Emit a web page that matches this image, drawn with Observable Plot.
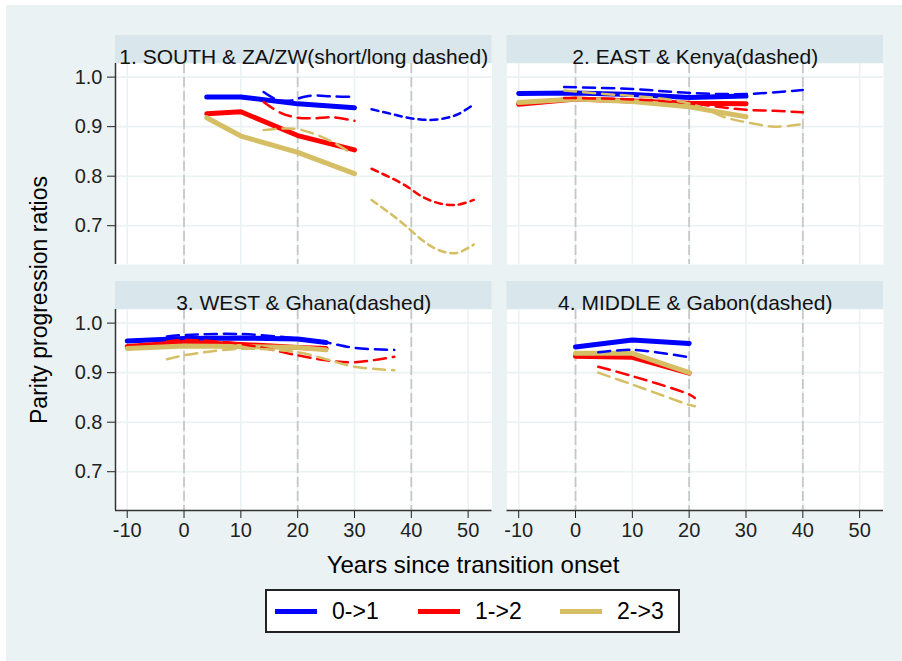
<!DOCTYPE html>
<html><head><meta charset="utf-8">
<script src="https://cdn.jsdelivr.net/npm/d3@7"></script>
<script src="https://cdn.jsdelivr.net/npm/@observablehq/plot@0.6"></script>
<style>
body{margin:0;background:#fff;font-family:"Liberation Sans",Arial,sans-serif;color:#000}
#wrap{position:relative;width:902px;height:661px;overflow:hidden;background:#fff}
#bg{position:absolute;left:6px;top:5px;right:0;bottom:0;background:#EAF2F3}
#chart{position:absolute;left:0;top:0}
#ytitle{position:absolute;left:39px;top:300px;transform:translate(-50%,-50%) rotate(-90deg);font-size:23px;white-space:nowrap}
#xtitle{position:absolute;left:473px;top:565px;transform:translate(-50%,-50%);font-size:24px;white-space:nowrap}
#legend{position:absolute;left:265px;top:589px;width:411px;height:40px;border:2px solid #222;background:#fff}
.sw{position:absolute;top:18px;width:42px;height:5px}
.lab{position:absolute;top:50%;transform:translateY(-50%);font-size:23px;white-space:nowrap}
</style>
</head>
<body>
<div id="wrap">
  <div id="bg"></div>
  <div id="chart"></div>
  <div id="ytitle">Parity progression ratios</div>
  <div id="xtitle">Years since transition onset</div>
  <div id="legend"></div>
</div>
<script>
// ---------- categories & labels ----------
const panelTitles = [
  "1. SOUTH & ZA/ZW(short/long dashed)",
  "2. EAST & Kenya(dashed)",
  "3. WEST & Ghana(dashed)",
  "4. MIDDLE & Gabon(dashed)"
];
const panelCols = [1, 2, 1, 2];
const panelRows = [1, 1, 2, 2];
const parities = ["0->1", "1->2", "2->3"];
const parityColors = ["#0000FF", "#FF0000", "#D6BE64"];
const xTicks = [-10, 0, 10, 20, 30, 40, 50];
const yTicks = [0.7, 0.8, 0.9, 1.0];
const onsetLines = [0, 20, 40];
const xDomain = [-12.06, 54.2];
const yDomain = [0.6217, 1.0275];

// ---------- 1. SOUTH (region, solid) ----------
const southYears = [4, 10, 20, 30];
const south01 = [0.960, 0.960, 0.946, 0.938];
const south12 = [0.926, 0.930, 0.882, 0.853];
const south23 = [0.918, 0.881, 0.848, 0.805];
// ZW (long dashed)
const zwYears = [14, 16.5, 19, 21, 23, 26, 30];
const zw01 = [0.970, 0.954, 0.953, 0.960, 0.963, 0.961, 0.960];
const zwYears12 = [14, 17, 20, 23, 26, 30];
const zw12 = [0.950, 0.928, 0.918, 0.917, 0.919, 0.912];
const zwYears23 = [14, 17, 20, 23, 26, 29.5];
const zw23 = [0.893, 0.896, 0.895, 0.885, 0.870, 0.846];
// ZA (short dashed)
const zaYears = [33, 36, 39, 42, 45, 48, 51];
const za01 = [0.935, 0.927, 0.919, 0.914, 0.915, 0.924, 0.945];
const za12 = [0.815, 0.799, 0.781, 0.758, 0.745, 0.742, 0.752];
const za23 = [0.752, 0.727, 0.700, 0.670, 0.650, 0.645, 0.662];

// ---------- 2. EAST (region, solid) ----------
const eastYears = [-10, 0, 10, 20, 30];
const east01 = [0.967, 0.968, 0.965, 0.959, 0.962];
const east12 = [0.945, 0.956, 0.952, 0.947, 0.946];
const east23 = [0.949, 0.956, 0.951, 0.940, 0.920];
// Kenya (dashed)
const kenyaYears01 = [-2, 10, 20, 30, 40];
const kenya01 = [0.980, 0.976, 0.968, 0.966, 0.974];
const kenyaYears12 = [-2, 10, 20, 25, 30, 35, 40];
const kenya12 = [0.958, 0.955, 0.948, 0.940, 0.934, 0.932, 0.929];
const kenyaYears23 = [-2, 5, 10, 17, 22, 26, 30, 35, 40];
const kenya23 = [0.973, 0.966, 0.962, 0.954, 0.940, 0.920, 0.909, 0.900, 0.905];

// ---------- 3. WEST (region, solid) ----------
const westYears = [-10, 0, 10, 20, 25];
const west01 = [0.964, 0.969, 0.970, 0.968, 0.961];
const west12 = [0.953, 0.961, 0.957, 0.951, 0.949];
const west23 = [0.949, 0.954, 0.953, 0.951, 0.946];
// Ghana (dashed)
const ghanaYears = [-3, 0, 10, 20, 25, 30, 37];
const ghana01 = [0.973, 0.976, 0.978, 0.969, 0.961, 0.950, 0.946];
const ghana12 = [0.963, 0.966, 0.958, 0.935, 0.925, 0.921, 0.932];
const ghana23 = [0.927, 0.935, 0.948, 0.941, 0.927, 0.912, 0.905];

// ---------- 4. MIDDLE (region, solid) ----------
const middleYears = [0, 10, 20];
const middle01 = [0.952, 0.966, 0.959];
const middle12 = [0.933, 0.931, 0.899];
const middle23 = [0.939, 0.939, 0.900];
// Gabon (dashed)
const gabonYears01 = [4, 10, 20];
const gabon01 = [0.941, 0.946, 0.931];
const gabonYears = [4, 10, 20, 21];
const gabon12 = [0.912, 0.893, 0.856, 0.849];
const gabon23 = [0.900, 0.876, 0.835, 0.832];

// ---------- build tables ----------
const panels = panelTitles.map((title, i) => ({title, col: panelCols[i], row: panelRows[i]}));
const rows = [];
function addCurve(p, style, parity, years, values) {
  years.forEach((yr, i) => rows.push({
    col: panelCols[p], row: panelRows[p], style, parity,
    key: p + "|" + style + "|" + parity, year: yr, value: values[i]
  }));
}
addCurve(0, "solid", parities[0], southYears, south01);
addCurve(0, "solid", parities[1], southYears, south12);
addCurve(0, "solid", parities[2], southYears, south23);
addCurve(0, "long", parities[0], zwYears, zw01);
addCurve(0, "long", parities[1], zwYears12, zw12);
addCurve(0, "long", parities[2], zwYears23, zw23);
addCurve(0, "short", parities[0], zaYears, za01);
addCurve(0, "short", parities[1], zaYears, za12);
addCurve(0, "short", parities[2], zaYears, za23);

addCurve(1, "solid", parities[0], eastYears, east01);
addCurve(1, "solid", parities[1], eastYears, east12);
addCurve(1, "solid", parities[2], eastYears, east23);
addCurve(1, "long", parities[0], kenyaYears01, kenya01);
addCurve(1, "long", parities[1], kenyaYears12, kenya12);
addCurve(1, "long", parities[2], kenyaYears23, kenya23);

addCurve(2, "solid", parities[0], westYears, west01);
addCurve(2, "solid", parities[1], westYears, west12);
addCurve(2, "solid", parities[2], westYears, west23);
addCurve(2, "long", parities[0], ghanaYears, ghana01);
addCurve(2, "long", parities[1], ghanaYears, ghana12);
addCurve(2, "long", parities[2], ghanaYears, ghana23);

addCurve(3, "solid", parities[0], middleYears, middle01);
addCurve(3, "solid", parities[1], middleYears, middle12);
addCurve(3, "solid", parities[2], middleYears, middle23);
addCurve(3, "long", parities[0], gabonYears01, gabon01);
addCurve(3, "long", parities[1], gabonYears, gabon12);
addCurve(3, "long", parities[2], gabonYears, gabon23);

const solidRows = rows.filter(d => d.style === "solid");
const longRows = rows.filter(d => d.style === "long");
const shortRows = rows.filter(d => d.style === "short");
const leftPanels = panels.filter(d => d.col === 1);
const bottomPanels = panels.filter(d => d.row === 2);

const facetH = 201;
const chart = Plot.plot({
  width: 902,
  height: 548,
  marginLeft: 115, marginRight: 19, marginTop: 63, marginBottom: 38,
  style: {fontFamily: "'Liberation Sans', Arial, sans-serif", fontSize: "20px", color: "#222", background: "transparent", overflow: "visible"},
  fx: {domain: [1, 2], axis: null, paddingInner: 0.0383, paddingOuter: 0, round: false},
  fy: {domain: [1, 2], axis: null, paddingInner: 0.183, paddingOuter: 0, round: false},
  x: {domain: xDomain, ticks: xTicks, tickFormat: d => String(d), tickSize: 8, tickPadding: 4, label: null},
  y: {domain: yDomain, ticks: yTicks, tickFormat: d => d.toFixed(1), tickSize: 8, tickPadding: 5, label: null},
  color: {domain: parities, range: parityColors},
  marks: [
    Plot.frame({fill: "white", stroke: null}),
    Plot.ruleX(xTicks, {stroke: "#EAF2F3", strokeWidth: 1.6}),
    Plot.ruleY(yTicks, {stroke: "#EAF2F3", strokeWidth: 1.6}),
    Plot.ruleX(onsetLines, {stroke: "#C8C8C8", strokeWidth: 1.8, strokeDasharray: "10,4"}),
    Plot.rect(panels, {fx: "col", fy: "row", fill: "#D9E6EB", insetTop: -28, insetBottom: facetH}),
    Plot.text(panels, {fx: "col", fy: "row", text: "title", frameAnchor: "top", dy: -14, fontSize: 21, fill: "#111"}),
    Plot.ruleX(leftPanels, {fx: "col", fy: "row", x: xDomain[0], stroke: "#333", strokeWidth: 1.5}),
    Plot.ruleY(bottomPanels, {fx: "col", fy: "row", y: yDomain[0], stroke: "#333", strokeWidth: 1.5}),
    Plot.line(solidRows, {fx: "col", fy: "row", x: "year", y: "value", z: "key", stroke: "parity", strokeWidth: 5, strokeLinecap: "round", strokeLinejoin: "round"}),
    Plot.line(longRows, {fx: "col", fy: "row", x: "year", y: "value", z: "key", stroke: "parity", strokeWidth: 2.5, strokeDasharray: "12,7", curve: "catmull-rom"}),
    Plot.line(shortRows, {fx: "col", fy: "row", x: "year", y: "value", z: "key", stroke: "parity", strokeWidth: 2.5, strokeDasharray: "7,5", curve: "catmull-rom"})
  ]
});
document.getElementById("chart").appendChild(chart);

// legend
const legend = document.getElementById("legend");
const swX = [8, 151, 293];
const labX = [65, 208, 350];
parities.forEach((p, i) => {
  const sw = document.createElement("div");
  sw.className = "sw";
  sw.style.left = swX[i] + "px";
  sw.style.background = parityColors[i];
  legend.appendChild(sw);
  const lb = document.createElement("div");
  lb.className = "lab";
  lb.style.left = labX[i] + "px";
  lb.textContent = p;
  legend.appendChild(lb);
});
</script>
</body></html>
